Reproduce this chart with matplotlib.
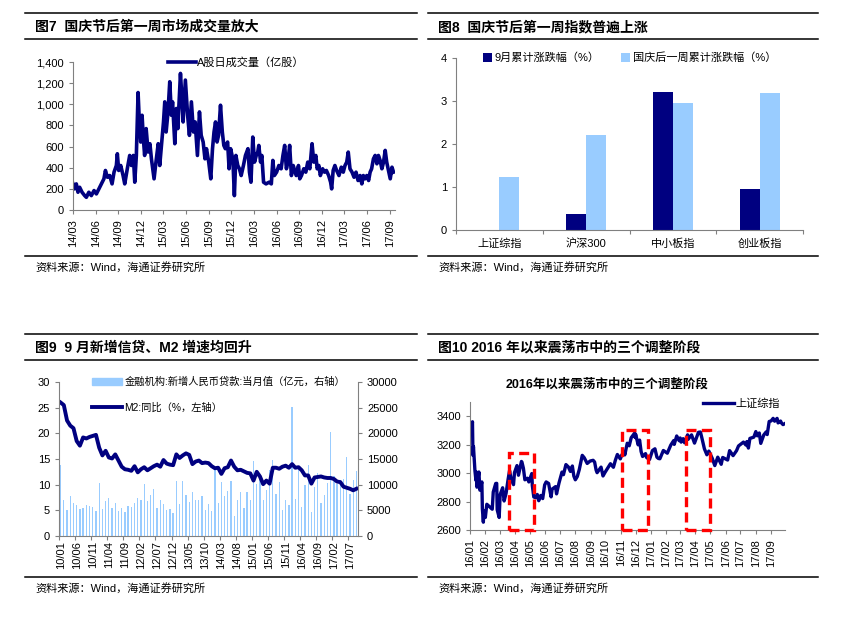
import matplotlib
matplotlib.use('Agg')
import matplotlib.pyplot as plt
import numpy as np
import pandas as pd
from matplotlib.lines import Line2D
from matplotlib.patches import Patch, Rectangle
from matplotlib.ticker import FuncFormatter

plt.rcParams['font.family'] = ['Liberation Sans', 'Noto Sans CJK SC']
plt.rcParams['axes.unicode_minus'] = False

# ---- fig 7: daily A-share volume (months since 2014/03, 亿股)
vol_month = [0, 0.2, 0.44, 0.66, 0.88, 1.2, 1.55, 1.77, 2.1, 2.43,
             2.79, 3.1, 3.54, 3.76, 4.1, 4.3, 4.56, 4.87, 5.18, 5.44,
             5.75, 5.88, 6.06, 6.33, 6.64, 6.86, 7.2, 7.52, 7.74, 8.0,
             8.19, 8.4, 8.63, 8.8, 8.98, 9.16, 9.33, 9.5, 9.7, 9.96,
             10.2, 10.4, 10.75, 11.0, 11.3, 11.5, 11.8, 12.0, 12.17, 12.35,
             12.6, 12.83, 13.05, 13.2, 13.5, 13.7, 13.9, 14.25, 14.47, 14.6,
             14.9, 15.2, 15.44, 15.7, 15.97, 16.2, 16.5, 16.77, 17.0, 17.26,
             17.5, 17.7, 18.0, 18.27, 18.5, 18.7, 18.9, 19.1, 19.3, 19.56,
             19.8, 20.0, 20.2, 20.5, 20.7, 20.9, 21.2, 21.4, 21.6, 21.85,
             22.07, 22.3, 22.6, 22.87, 23.2, 23.4, 23.6, 23.84, 24.07, 24.3,
             24.5, 24.64, 24.87, 25.04, 25.27, 25.6, 26.0, 26.3, 26.5, 26.7,
             27.0, 27.3, 27.6, 27.84, 28.07, 28.3, 28.5, 28.73, 28.96, 29.2,
             29.4, 29.6, 29.9, 30.07, 30.3, 30.6, 30.87, 31.13, 31.4, 31.7,
             31.93, 32.2, 32.38, 32.6, 32.8, 33.1, 33.35, 33.6, 33.9, 34.16,
             34.3, 34.5, 34.73, 34.96, 35.27, 35.58, 35.84, 36.07, 36.3, 36.5,
             36.73, 37.0, 37.27, 37.53, 37.8, 38.07, 38.3, 38.5, 38.73, 38.96,
             39.2, 39.4, 39.6, 39.84, 40.07, 40.3, 40.5, 40.73, 40.96, 41.18,
             41.4, 41.6, 41.84, 42.07, 42.3, 42.5]
vol_value = [247, 200, 247, 168, 215, 168, 136, 120, 168, 136,
             184, 152, 215, 247, 295, 374, 310, 326, 247, 358,
             421, 532, 374, 421, 326, 247, 390, 516, 421, 516,
             263, 516, 1111, 833, 643, 896, 675, 516, 770, 548,
             627, 484, 295, 453, 627, 421, 675, 833, 1023, 738,
             928, 1213, 896, 1023, 627, 960, 770, 1292, 1023, 833,
             1229, 896, 706, 1023, 738, 833, 516, 928, 706, 643,
             484, 580, 453, 295, 580, 738, 833, 643, 706, 991,
             738, 611, 580, 643, 390, 580, 480, 136, 516, 421,
             390, 326, 421, 516, 580, 358, 263, 690, 453, 516,
             548, 611, 453, 516, 263, 247, 263, 247, 469, 326,
             358, 421, 390, 516, 611, 390, 453, 611, 326, 421,
             374, 326, 421, 295, 326, 390, 358, 453, 390, 627,
             453, 516, 390, 421, 326, 390, 358, 374, 326, 263,
             200, 374, 421, 374, 326, 405, 358, 421, 453, 548,
             390, 358, 310, 358, 279, 326, 247, 326, 295, 326,
             279, 358, 390, 484, 516, 437, 516, 469, 390, 453,
             564, 453, 374, 295, 405, 358]
vol_ticks = ['14/03', '14/06', '14/09', '14/12', '15/03', '15/06', '15/09', '15/12',
             '16/03', '16/06', '16/09', '16/12', '17/03', '17/06', '17/09']

# ---- fig 8: index moves (%)
idx_names = ['上证综指', '沪深300', '中小板指', '创业板指']
sep_chg = [-0.02, 0.38, 3.21, 0.96]
oct_chg = [1.24, 2.21, 2.95, 3.18]

# ---- fig 9: monthly new loans (亿元) and M2 yoy (%), 2010/01 - 2017/09
loans = [13900, 7000, 5107, 7740, 6394, 6034, 5328, 5452, 5955, 5873, 5640, 4807,
         10400, 5356, 6794, 7396, 5516, 6339, 4926, 5485, 4700, 5868, 5622, 6405,
         7381, 7107, 10114, 6818, 7932, 9198, 5401, 7039, 6232, 5053, 5229, 4543,
         10721, 6200, 10625, 7929, 6694, 8605, 6999, 7107, 7870, 5061, 6246, 4825,
         13200, 6445, 10500, 7747, 8708, 10800, 3852, 7025, 8572, 5483, 8527, 6973,
         14700, 10200, 11800, 7079, 9008, 12800, 14800, 8096, 10500, 5136, 7089, 5978,
         25100, 7266, 13700, 5556, 9855, 13800, 4636, 9487, 12200, 6513, 7946, 10400,
         20300, 11700, 10200, 11000, 11100, 15400, 8255, 10900, 12700]
m2_yoy = [26.0, 25.5, 22.5, 21.5, 21.0, 18.5, 17.6, 19.2, 19.0, 19.3, 19.5, 19.7,
          17.2, 15.7, 16.6, 15.3, 15.1, 15.9, 14.7, 13.5, 13.0, 12.9, 12.7, 13.6,
          12.4, 13.0, 13.4, 12.8, 13.2, 13.6, 13.9, 13.5, 14.8, 14.1, 13.9, 13.8,
          15.9, 15.2, 15.7, 16.1, 15.8, 14.0, 14.5, 14.7, 14.2, 14.3, 14.2, 13.6,
          13.2, 13.3, 12.1, 13.2, 13.4, 14.7, 13.5, 12.8, 12.9, 12.6, 12.3, 12.2,
          10.8, 12.5, 11.6, 10.1, 10.8, 10.2, 13.3, 13.3, 13.1, 13.5, 13.7, 13.3,
          14.0, 13.3, 13.4, 12.8, 11.8, 11.8, 10.2, 11.4, 11.5, 11.6, 11.4, 11.3,
          11.3, 11.1, 10.6, 10.5, 9.6, 9.4, 9.2, 8.9, 9.2]
loan_months = pd.period_range('2010-01', '2017-09', freq='M').strftime('%y/%m').tolist()

# ---- fig 10: Shanghai Composite close
sh_date = ['16-01-04', '16-01-06', '16-01-07', '16-01-08', '16-01-11', '16-01-13', '16-01-14', '16-01-15',
           '16-01-19', '16-01-21', '16-01-25', '16-01-26', '16-01-28', '16-01-29', '16-02-01', '16-02-04',
           '16-02-15', '16-02-17', '16-02-22', '16-02-24', '16-02-25', '16-02-29', '16-03-02', '16-03-07',
           '16-03-10', '16-03-14', '16-03-18', '16-03-21', '16-03-24', '16-03-29', '16-03-31', '16-04-05',
           '16-04-08', '16-04-14', '16-04-15', '16-04-18', '16-04-21', '16-04-26', '16-04-29', '16-05-05',
           '16-05-06', '16-05-09', '16-05-13', '16-05-16', '16-05-19', '16-05-23', '16-05-27', '16-05-31',
           '16-06-03', '16-06-08', '16-06-13', '16-06-15', '16-06-22', '16-06-24', '16-06-29', '16-07-05',
           '16-07-08', '16-07-13', '16-07-18', '16-07-22', '16-07-26', '16-07-29', '16-08-01', '16-08-05',
           '16-08-09', '16-08-15', '16-08-19', '16-08-25', '16-08-31', '16-09-06', '16-09-09', '16-09-12',
           '16-09-14', '16-09-22', '16-09-26', '16-09-30', '16-10-11', '16-10-17', '16-10-21', '16-10-25',
           '16-10-31', '16-11-03', '16-11-08', '16-11-09', '16-11-14', '16-11-18', '16-11-22', '16-11-29',
           '16-11-30', '16-12-01', '16-12-06', '16-12-09', '16-12-12', '16-12-15', '16-12-21', '16-12-23',
           '16-12-29', '17-01-04', '17-01-09', '17-01-13', '17-01-16', '17-01-19', '17-01-26', '17-02-03',
           '17-02-10', '17-02-16', '17-02-17', '17-02-22', '17-02-27', '17-03-01', '17-03-03', '17-03-07',
           '17-03-10', '17-03-16', '17-03-17', '17-03-24', '17-03-30', '17-04-07', '17-04-11', '17-04-14',
           '17-04-19', '17-04-24', '17-04-28', '17-05-05', '17-05-10', '17-05-16', '17-05-23', '17-05-26',
           '17-06-05', '17-06-09', '17-06-16', '17-06-23', '17-06-27', '17-07-07', '17-07-12', '17-07-14',
           '17-07-17', '17-07-20', '17-07-28', '17-08-01', '17-08-04', '17-08-08', '17-08-11', '17-08-17',
           '17-08-22', '17-08-24', '17-08-28', '17-09-01', '17-09-05', '17-09-08', '17-09-13', '17-09-15',
           '17-09-20', '17-09-22', '17-09-25', '17-09-29']
sh_close = [3296, 3361, 3125, 3186, 3016, 2949, 3007, 2901,
            3008, 2880, 2938, 2750, 2655, 2737, 2688, 2781,
            2746, 2867, 2927, 2928, 2742, 2688, 2849, 2897,
            2804, 2859, 2955, 3018, 2961, 2919, 3004, 3053,
            2985, 3082, 3078, 3034, 2953, 2964, 2938, 2997,
            2913, 2832, 2827, 2850, 2806, 2843, 2821, 2917,
            2938, 2927, 2833, 2887, 2905, 2854, 2931, 3007,
            2989, 3060, 3043, 3012, 3050, 2979, 2953, 2976,
            3025, 3125, 3108, 3068, 3085, 3090, 3078, 3022,
            3003, 3042, 2980, 3005, 3066, 3041, 3091, 3131,
            3100, 3128, 3147, 3128, 3210, 3192, 3249, 3282,
            3250, 3273, 3199, 3232, 3152, 3117, 3137, 3110,
            3096, 3159, 3171, 3112, 3103, 3101, 3159, 3140,
            3197, 3229, 3202, 3261, 3228, 3247, 3218, 3242,
            3213, 3269, 3237, 3269, 3211, 3287, 3289, 3246,
            3171, 3129, 3155, 3103, 3053, 3112, 3062, 3110,
            3092, 3158, 3123, 3158, 3191, 3218, 3197, 3222,
            3176, 3244, 3253, 3292, 3262, 3282, 3209, 3268,
            3290, 3271, 3363, 3367, 3385, 3365, 3385, 3353,
            3366, 3352, 3341, 3349]
box_start = ['2016-03-20', '2016-11-04', '2017-03-12']
box_end = ['2016-05-09', '2016-12-26', '2017-05-01']
box_top = [3140, 3300, 3300]

NAVY = '#000080'
LIGHT = '#99CCFF'
GRAY = '#808080'
RED = '#FF0000'
W, H = 851, 617
FS = 8
source = '资料来源：Wind，海通证券研究所'

fig = plt.figure(figsize=(W / 100, H / 100), dpi=100)


def px_axes(x0, y0, x1, y1):
    return fig.add_axes([x0 / W, 1 - y1 / H, (x1 - x0) / W, (y1 - y0) / H])


def hline(x0, x1, y, lw=1.1):
    fig.add_artist(Line2D([x0 / W, x1 / W], [1 - y / H, 1 - y / H], color='black', lw=lw))


def panel(x0, x1, ytop, title):
    hline(x0, x1, ytop)
    fig.text((x0 + 10) / W, 1 - (ytop + 14) / H, title, fontsize=10, fontweight='bold', va='center')
    hline(x0, x1, ytop + 26)
    hline(x0, x1, ytop + 243)
    fig.text((x0 + 10) / W, 1 - (ytop + 254) / H, source, fontsize=8, va='center')


def style(ax):
    for s in ['top', 'right']:
        ax.spines[s].set_visible(False)
    for s in ['left', 'bottom']:
        ax.spines[s].set_color(GRAY)
        ax.spines[s].set_linewidth(0.8)
    ax.tick_params(which='both', color=GRAY, length=3, width=0.8, labelsize=FS, direction='out')


panel(25, 417, 13, '图7  国庆节后第一周市场成交量放大')
panel(428, 818, 13, '图8  国庆节后第一周指数普遍上涨')
panel(25, 417, 334, '图9  9 月新增信贷、M2 增速均回升')
panel(428, 818, 334, '图10 2016 年以来震荡市中的三个调整阶段')

# fig 7
ax1 = px_axes(73, 62, 395, 210)
style(ax1)
ax1.plot(vol_month, vol_value, color=NAVY, lw=2.6, label='A股日成交量（亿股）')
ax1.set_xlim(0, 42.7)
ax1.set_ylim(0, 1400)
ax1.set_yticks(range(0, 1401, 200))
ax1.yaxis.set_major_formatter(FuncFormatter(lambda v, p: f'{v:,.0f}'))
ax1.set_xticks(np.arange(0, 43, 3))
ax1.set_xticklabels(vol_ticks, rotation=90)
ax1.legend(loc='upper left', bbox_to_anchor=(0.295, 1.03), frameon=False, fontsize=FS,
           handlelength=2.5, handletextpad=0.1, borderpad=0, borderaxespad=0)

# fig 8
ax2 = px_axes(456, 58, 803, 230)
style(ax2)
x = np.arange(len(idx_names))
ax2.bar(x - 0.115, sep_chg, 0.23, color=NAVY, label='9月累计涨跌幅（%）', clip_on=False)
ax2.bar(x + 0.115, oct_chg, 0.23, color=LIGHT, label='国庆后一周累计涨跌幅（%）')
ax2.set_ylim(0, 4)
ax2.set_xlim(-0.5, 3.5)
ax2.set_yticks(range(0, 5))
ax2.set_xticks(x)
ax2.set_xticklabels(idx_names)
ax2.set_xticks(np.arange(-0.5, 4, 1), minor=True)
ax2.tick_params(axis='x', which='major', length=0, pad=6)
ax2.legend(loc='center', bbox_to_anchor=(0.5, 1.0), ncol=2, frameon=False, fontsize=FS,
           handlelength=0.8, handleheight=0.8, handletextpad=0.2, columnspacing=2.0, borderpad=0)

# fig 9
ax3 = px_axes(59, 382, 358, 536)
ax3r = ax3.twinx()
style(ax3)
ax3r.spines['top'].set_visible(False)
ax3r.spines['left'].set_visible(False)
ax3r.spines['bottom'].set_visible(False)
ax3r.spines['right'].set_color(GRAY)
ax3r.spines['right'].set_linewidth(0.8)
ax3r.tick_params(color=GRAY, length=3, width=0.8, labelsize=FS, direction='out')
xm = np.arange(len(loans))
ax3r.bar(xm, loans, 0.4, color=LIGHT)
ax3.plot(xm, m2_yoy, color=NAVY, lw=2.8)
ax3.set_zorder(ax3r.get_zorder() + 1)
ax3.patch.set_visible(False)
ax3.set_xlim(-0.5, len(loans) - 0.5)
ax3.set_ylim(0, 30)
ax3r.set_ylim(0, 30000)
ax3.set_yticks(range(0, 31, 5))
ax3r.set_yticks(range(0, 30001, 5000))
ax3.set_xticks(xm[::5])
ax3.set_xticklabels(loan_months[::5], rotation=90)
ax3.set_xticks(np.arange(-0.5, len(loans), 5), minor=True)
ax3.tick_params(axis='x', which='major', length=0)
h3 = [Patch(color=LIGHT), Line2D([], [], color=NAVY, lw=2.8)]
ax3.legend(h3, ['金融机构:新增人民币贷款:当月值（亿元，右轴）', 'M2:同比（%，左轴）'],
           loc='upper left', bbox_to_anchor=(0.11, 1.035), frameon=False, fontsize=7.4,
           handlelength=2.9, handleheight=0.7, handletextpad=0.25, labelspacing=1.5,
           borderpad=0, borderaxespad=0)

# fig 10
ax4 = px_axes(470, 402, 785, 530)
style(ax4)
ax4.plot(pd.to_datetime(sh_date, format='%y-%m-%d'), sh_close, color=NAVY, lw=2.4, label='上证综指')
ax4.set_xlim(pd.Timestamp('2016-01-01'), pd.Timestamp('2017-09-29'))
ax4.set_ylim(2600, 3500)
ax4.set_yticks(range(2600, 3401, 200))
mticks = pd.date_range('2016-01-01', '2017-09-01', freq='MS')
ax4.set_xticks(mticks)
ax4.set_xticklabels(mticks.strftime('%y/%m'), rotation=90)
for s, e, t in zip(box_start, box_end, box_top):
    s, e = matplotlib.dates.date2num(pd.Timestamp(s)), matplotlib.dates.date2num(pd.Timestamp(e))
    ax4.add_patch(Rectangle((s, 2600), e - s, t - 2600, fill=False, edgecolor=RED,
                            lw=2.4, linestyle=(0, (3, 1.6)), clip_on=False, zorder=5))
ax4.legend(loc='upper right', bbox_to_anchor=(0.985, 1.03), frameon=False, fontsize=FS,
           handlelength=2.8, handletextpad=0.15, borderpad=0, borderaxespad=0)
fig.text(607 / W, 1 - 385 / H, '2016年以来震荡市中的三个调整阶段', fontsize=9,
         fontweight='bold', ha='center', va='center')

fig.savefig('out.png', dpi=100)
